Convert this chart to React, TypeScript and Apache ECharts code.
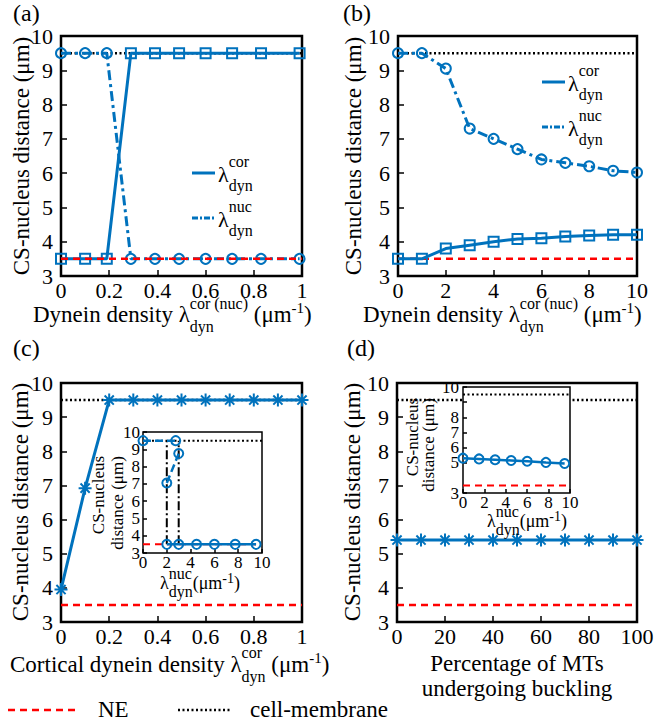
import React, { useEffect, useRef } from "react";
import * as echarts from "echarts";

const BLUE = "#0072BD";
const RED = "#FF0000";
const FONT = "Liberation Serif, DejaVu Serif, serif";

// reference levels
const NE_LEVEL = 3.5;
const MEMBRANE_LEVEL = 9.5;

// (a) dynein density sweep 0..1
const aDensity = [0, 0.1, 0.19, 0.29, 0.39, 0.49, 0.6, 0.71, 0.83, 0.99];
const aCortical = [3.5, 3.5, 3.5, 9.5, 9.5, 9.5, 9.5, 9.5, 9.5, 9.5];
const aNuclear = [9.5, 9.5, 9.5, 3.5, 3.5, 3.5, 3.5, 3.5, 3.5, 3.5];

// (b) dynein density sweep 0..10
const bDensity = [0, 1, 2, 3, 4, 5, 6, 7, 8, 9, 10];
const bCortical = [3.5, 3.5, 3.8, 3.9, 4.0, 4.08, 4.1, 4.15, 4.18, 4.2, 4.2];
const bNuclear = [9.5, 9.5, 9.05, 7.3, 7.0, 6.7, 6.4, 6.3, 6.2, 6.07, 6.02];

// (c) cortical dynein density
const cDensity = [0, 0.1, 0.2, 0.3, 0.4, 0.5, 0.6, 0.7, 0.8, 0.9, 1.0];
const cDistance = [3.95, 6.92, 9.5, 9.5, 9.5, 9.5, 9.5, 9.5, 9.5, 9.5, 9.5];

// (c) inset: nuclear dynein density
const ciUpperX = [0, 2.75];
const ciUpperY = [9.5, 9.5];
const ciMidX = [2, 3];
const ciMidY = [7.05, 8.75];
const ciLowerX = [2, 3, 4.5, 6, 7.75, 9.5];
const ciLowerY = [3.5, 3.5, 3.5, 3.5, 3.5, 3.5];
const ciBistableX = [2, 3];

// (d) percentage of buckling MTs
const dPercent = [0, 10, 20, 30, 40, 50, 60, 70, 80, 90, 100];
const dDistance = [5.4, 5.4, 5.4, 5.4, 5.4, 5.4, 5.4, 5.4, 5.4, 5.4, 5.4];

// (d) inset
const diX = [0, 1.5, 3, 4.5, 6, 7.75, 9.5];
const diY = [5.3, 5.25, 5.2, 5.15, 5.1, 5.02, 4.95];

// axis ranges [min, max, interval]
const rangeUnit = [0, 1, 0.2];
const rangeTen = [0, 10, 2];
const rangePercent = [0, 100, 20];
const rangeDist = [3, 10, 1];
const insetHiddenYLabels = [9];

const ASTERISK = "path://M0,-6L0,6M-6,0L6,0M-4.24,-4.24L4.24,4.24M-4.24,4.24L4.24,-4.24";

let measureCtx: CanvasRenderingContext2D | null = null;
function tw(text: string, size: number) {
  if (!measureCtx) measureCtx = document.createElement("canvas").getContext("2d");
  if (!measureCtx) return text.length * size * 0.5;
  measureCtx.font = `${size}px Liberation Serif, DejaVu Serif, serif`;
  return measureCtx.measureText(text).width;
}

function txt(x: number, baseline: number, text: string, size: number, align = "left") {
  return {
    type: "text",
    x,
    y: baseline - 0.34 * size,
    z: 100,
    silent: true,
    style: {
      text,
      fill: "#000",
      font: `${size}px ${FONT}`,
      fontSize: size,
      fontFamily: FONT,
      textAlign: align,
      textVerticalAlign: "middle",
    },
  };
}

function vtxt(cx: number, cy: number, text: string, size: number) {
  return {
    type: "text",
    x: cx,
    y: cy,
    rotation: Math.PI / 2,
    z: 100,
    silent: true,
    style: {
      text,
      fill: "#000",
      font: `${size}px ${FONT}`,
      fontSize: size,
      fontFamily: FONT,
      textAlign: "center",
      textVerticalAlign: "middle",
    },
  };
}

type Piece =
  | { t: string; s: number; dy?: number }
  | { sup: string; sub: string; s: number; supDy: number; subDy: number };

function mathRow(x0: number, base: number, pieces: Piece[]) {
  const els: any[] = [];
  let x = x0;
  for (const p of pieces) {
    if ("t" in p) {
      els.push(txt(x, base + (p.dy || 0), p.t, p.s));
      x += tw(p.t, p.s);
    } else {
      els.push(txt(x, base + p.supDy, p.sup, p.s));
      els.push(txt(x, base + p.subDy, p.sub, p.s));
      x += Math.max(tw(p.sup, p.s), tw(p.sub, p.s));
    }
  }
  return els;
}

function legendEntry(x1: number, x2: number, y: number, dash: number[] | null, sup: string) {
  return [
    {
      type: "line",
      z: 100,
      silent: true,
      shape: { x1, y1: y, x2, y2: y },
      style: { stroke: BLUE, lineWidth: 3, lineDash: dash || undefined },
    },
    ...mathRow(x2 + 3, y + 9, [
      { t: "λ", s: 22 },
      { sup, sub: "dyn", s: 16, supDy: -15, subDy: 9 },
    ]),
  ];
}

function axis(gi: number, r: number[], fs: number, margin: number, tick: number, z = 0, hidden: number[] = []) {
  return {
    type: "value",
    gridIndex: gi,
    min: r[0],
    max: r[1],
    interval: r[2],
    z,
    axisLine: { show: false },
    splitLine: { show: false },
    axisTick: { show: true, inside: true, length: tick, lineStyle: { color: "#000", width: 1.5 } },
    axisLabel: {
      fontFamily: FONT,
      fontSize: fs,
      color: "#000",
      margin,
      showMinLabel: true,
      showMaxLabel: true,
      formatter: (v: number) => (hidden.includes(v) ? "" : String(Math.round(v * 100) / 100)),
    },
  };
}

function pts(xs: number[], ys: number[]) {
  return xs.map((x, i) => [x, ys[i]]);
}

function refLine(gi: number, x0: number, x1: number, level: number, kind: "NE" | "MEM", z: number, w = 2.5) {
  return {
    type: "line",
    xAxisIndex: gi,
    yAxisIndex: gi,
    data: [
      [x0, level],
      [x1, level],
    ],
    symbol: "none",
    silent: true,
    clip: false,
    z,
    lineStyle:
      kind === "NE"
        ? { color: RED, width: w, type: [7, 5] }
        : { color: "#000", width: w, type: [2, 2.5] },
  };
}

function dataLine(
  gi: number,
  xs: number[],
  ys: number[],
  symbol: string,
  size: number,
  lineType: any,
  width: number,
  z: number,
  bw = 2
) {
  return {
    type: "line",
    xAxisIndex: gi,
    yAxisIndex: gi,
    data: pts(xs, ys),
    symbol,
    symbolSize: size,
    showSymbol: true,
    showAllSymbol: true,
    clip: false,
    silent: true,
    z,
    lineStyle: { color: BLUE, width, type: lineType },
    itemStyle: { color: "rgba(255,255,255,0)", borderColor: BLUE, borderWidth: bw },
  };
}

const DASHDOT = [10, 4, 3, 4];

function buildOption() {
  const mainGrid = { show: true, borderColor: "#000", borderWidth: 2.5, backgroundColor: "transparent", containLabel: false, outerBoundsMode: "none" };
  const insetGrid = { show: true, borderColor: "#000", borderWidth: 1.5, backgroundColor: "#fff", containLabel: false, outerBoundsMode: "none", z: 10 };
  const grid = [
    { ...mainGrid, left: 61, top: 36, width: 241, height: 240 },
    { ...mainGrid, left: 398, top: 36, width: 239, height: 240 },
    { ...mainGrid, left: 61, top: 383, width: 241, height: 239 },
    { ...mainGrid, left: 397, top: 383, width: 240, height: 239 },
    { ...insetGrid, left: 143, top: 432, width: 119, height: 121 },
    { ...insetGrid, left: 463, top: 387, width: 107, height: 106 },
  ];

  const xAxis = [
    axis(0, rangeUnit, 22, 3, 6),
    axis(1, rangeTen, 22, 3, 6),
    axis(2, rangeUnit, 22, 3, 6),
    axis(3, rangePercent, 22, 3, 6),
    axis(4, rangeTen, 17, 1, 4, 11),
    axis(5, rangeTen, 17, 1, 4, 11),
  ];
  const yAxis = [
    axis(0, rangeDist, 22, 8, 6),
    axis(1, rangeDist, 22, 8, 6),
    axis(2, rangeDist, 22, 8, 6),
    axis(3, rangeDist, 22, 8, 6),
    axis(4, rangeDist, 17, 3, 4, 11),
    axis(5, rangeDist, 17, 4, 4, 11, insetHiddenYLabels),
  ];

  const series: any[] = [
    // (a)
    refLine(0, rangeUnit[0], rangeUnit[1], MEMBRANE_LEVEL, "MEM", 1),
    dataLine(0, aDensity, aNuclear, "circle", 10, DASHDOT, 3, 2),
    dataLine(0, aDensity, aCortical, "rect", 10, "solid", 3, 3),
    refLine(0, rangeUnit[0], rangeUnit[1], NE_LEVEL, "NE", 4),
    // (b)
    refLine(1, rangeTen[0], rangeTen[1], MEMBRANE_LEVEL, "MEM", 1),
    refLine(1, rangeTen[0], rangeTen[1], NE_LEVEL, "NE", 1),
    dataLine(1, bDensity, bNuclear, "circle", 10, DASHDOT, 3, 2),
    dataLine(1, bDensity, bCortical, "rect", 10, "solid", 3, 3),
    // (c)
    refLine(2, rangeUnit[0], rangeUnit[1], MEMBRANE_LEVEL, "MEM", 1),
    refLine(2, rangeUnit[0], rangeUnit[1], NE_LEVEL, "NE", 1),
    dataLine(2, cDensity, cDistance, ASTERISK, 13, "solid", 3, 2),
    // (d)
    refLine(3, rangePercent[0], rangePercent[1], MEMBRANE_LEVEL, "MEM", 1),
    refLine(3, rangePercent[0], rangePercent[1], NE_LEVEL, "NE", 1),
    dataLine(3, dPercent, dDistance, ASTERISK, 13, "solid", 3, 2),
    // (c) inset
    refLine(4, rangeTen[0], rangeTen[1], MEMBRANE_LEVEL, "MEM", 12, 2),
    refLine(4, rangeTen[0], ciLowerX[ciLowerX.length - 1], NE_LEVEL, "NE", 12, 2),
    ...ciBistableX.map((x) => ({
      type: "line",
      xAxisIndex: 4,
      yAxisIndex: 4,
      data: [
        [x, NE_LEVEL],
        [x, MEMBRANE_LEVEL],
      ],
      symbol: "none",
      silent: true,
      clip: false,
      z: 12,
      lineStyle: { color: "#000", width: 2, type: [9, 3, 2, 3] },
    })),
    dataLine(4, ciUpperX, ciUpperY, "circle", 9, [8, 4], 2.5, 13),
    dataLine(4, ciMidX, ciMidY, "circle", 9, [8, 4], 2.5, 13),
    dataLine(4, ciLowerX, ciLowerY, "circle", 9, "solid", 2.5, 13),
    // (d) inset
    refLine(5, rangeTen[0], rangeTen[1], MEMBRANE_LEVEL, "MEM", 12, 2),
    refLine(5, rangeTen[0], rangeTen[1], NE_LEVEL, "NE", 12, 2),
    dataLine(5, diX, diY, "circle", 9, "solid", 2.5, 13),
  ];

  const xNameDyn: Piece[] = [
    { t: "Dynein density ", s: 23 },
    { t: "λ", s: 23 },
    { sup: "cor (nuc)", sub: "dyn", s: 16, supDy: -13, subDy: 10 },
    { t: " (μm", s: 23 },
    { t: "-1", s: 15, dy: -9 },
    { t: ")", s: 23 },
  ];

  const insetXName: Piece[] = [
    { t: "λ", s: 18 },
    { sup: "nuc", sub: "dyn", s: 16, supDy: -10, subDy: 8 },
    { t: "(μm", s: 18 },
    { t: "-1", s: 14, dy: -6 },
    { t: ")", s: 18 },
  ];

  const graphic: any[] = [
    // panel labels
    txt(13, 21, "(a)", 24),
    txt(343, 21, "(b)", 24),
    txt(13, 356, "(c)", 24),
    txt(347, 356, "(d)", 24),
    // y names
    vtxt(21, 156, "CS-nucleus distance (μm)", 23),
    vtxt(353, 156, "CS-nucleus distance (μm)", 23),
    vtxt(20, 502, "CS-nucleus distance (μm)", 23),
    vtxt(352, 502, "CS-nucleus distance (μm)", 23),
    // x names
    ...mathRow(33, 322, xNameDyn),
    ...mathRow(363, 322, xNameDyn),
    ...mathRow(10, 672, [
      { t: "Cortical dynein density ", s: 23 },
      { t: "λ", s: 23 },
      { sup: "cor", sub: "dyn", s: 16, supDy: -14, subDy: 10 },
      { t: " (μm", s: 23 },
      { t: "-1", s: 15, dy: -9 },
      { t: ")", s: 23 },
    ]),
    txt(517, 671, "Percentage of MTs", 23, "center"),
    txt(517, 696, "undergoing buckling", 23, "center"),
    // panel legends
    ...legendEntry(192, 215, 173, null, "cor"),
    ...legendEntry(192, 215, 218, [6, 2, 2, 2], "nuc"),
    ...legendEntry(542, 565, 82, null, "cor"),
    ...legendEntry(542, 565, 127, [6, 2, 2, 2], "nuc"),
    // inset labels
    ...mathRow(160, 589, insetXName),
    ...mathRow(487, 527, insetXName),
    vtxt(98, 495, "CS-nucleus", 17),
    vtxt(117, 503, "distance (μm)", 17),
    vtxt(412, 437, "CS-nucleus", 17),
    vtxt(428, 445, "distance (μm)", 17),
    // bottom legend
    {
      type: "line",
      z: 100,
      silent: true,
      shape: { x1: 8, y1: 710, x2: 80, y2: 710 },
      style: { stroke: RED, lineWidth: 2.5, lineDash: [7, 5] },
    },
    txt(98, 717, "NE", 23),
    {
      type: "line",
      z: 100,
      silent: true,
      shape: { x1: 178, y1: 710, x2: 232, y2: 710 },
      style: { stroke: "#000", lineWidth: 2.5, lineDash: [2, 2.5] },
    },
    txt(250, 717, "cell-membrane", 23),
  ];

  return {
    animation: false,
    backgroundColor: "#fff",
    textStyle: { fontFamily: FONT },
    grid,
    xAxis,
    yAxis,
    series,
    graphic,
  };
}

export default function App() {
  const ref = useRef<HTMLDivElement>(null);
  useEffect(() => {
    document.body.style.margin = "0";
    const chart = echarts.init(ref.current!, null, { renderer: "svg" });
    chart.setOption(buildOption() as any);
    return () => chart.dispose();
  }, []);
  return <div ref={ref} style={{ width: 659, height: 724, background: "#fff" }} />;
}
